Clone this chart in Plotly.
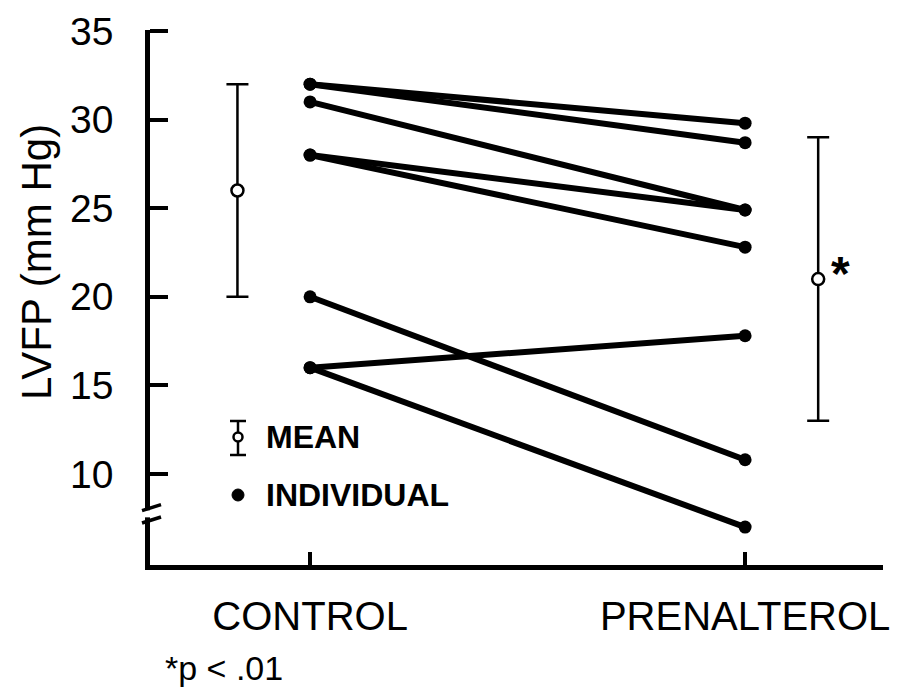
import plotly.graph_objects as go

# ---- data ----
categories = ["CONTROL", "PRENALTEROL"]
control_values = [32.0, 32.0, 31.0, 28.0, 28.0, 20.0, 16.0, 16.0]
prenalterol_values = [29.8, 28.7, 24.9, 24.9, 22.8, 10.8, 17.8, 7.0]
mean_values = [26.0, 21.0]
mean_errors = [6.0, 8.0]
y_ticks = [10, 15, 20, 25, 30, 35]
significance = ["", "*"]

FONT = "Liberation Sans"
cat_x = [0, 1]
mean_offset = [-0.167, 0.168]
mean_x = [c + o for c, o in zip(cat_x, mean_offset)]

# page offset of the figure inside the browser (default body margin)
OFF = 8
# target screen positions of plot area
SL, SR, ST, SB = 150, 883, 30, 565
L = SL - OFF
T = ST - OFF
R = 902 - (SR - OFF)
B = 690 - (SB - OFF)
plot_w = SR - SL
plot_h = SB - ST

def px_x(px):
    return (px - SL) / plot_w

def px_y(py):
    return (SB - py) / plot_h

fig = go.Figure()

# individual subjects
for c, p in zip(control_values, prenalterol_values):
    fig.add_trace(go.Scatter(
        x=cat_x, y=[c, p], mode="lines+markers",
        line=dict(color="black", width=6),
        marker=dict(color="black", size=13),
        showlegend=False, hoverinfo="skip"))

# means with error bars
fig.add_trace(go.Scatter(
    x=mean_x, y=mean_values, mode="markers",
    marker=dict(symbol="circle", size=12, color="white",
                line=dict(color="black", width=2.5)),
    error_y=dict(type="data", array=mean_errors, visible=True,
                 color="black", thickness=2.5, width=11),
    showlegend=False, hoverinfo="skip"))

# significance marker
for mx, my, s in zip(mean_x, mean_values, significance):
    if s:
        fig.add_annotation(x=mx, y=my, text="<b>" + s + "</b>", showarrow=False,
                           xshift=22, yshift=6, xanchor="center", yanchor="middle",
                           font=dict(family=FONT, size=48, color="black"))

fig.update_layout(
    width=902, height=690,
    margin=dict(l=L, r=R, t=T, b=B, pad=0, autoexpand=False),
    paper_bgcolor="white", plot_bgcolor="white",
    font=dict(family=FONT, color="black"),
    xaxis=dict(range=[-0.368, 1.317], tickvals=cat_x, ticktext=categories,
               automargin=False, ticklabeloverflow="allow",
               showline=True, linecolor="black", linewidth=4.5,
               ticks="inside", ticklen=13, tickwidth=3.5, tickcolor="black",
               showgrid=False, zeroline=False,
               tickfont=dict(family=FONT, size=40, color="black"),
               ticklabelstandoff=12),
    yaxis=dict(range=[4.86, 35.06], tickvals=y_ticks,
               automargin=False, ticklabeloverflow="allow",
               showline=True, linecolor="black", linewidth=4.5,
               ticks="inside", ticklen=18, tickwidth=4, tickcolor="black",
               showgrid=False, zeroline=False,
               tickfont=dict(family=FONT, size=39, color="black"),
               ticklabelstandoff=24),
)

# y-axis title
fig.add_annotation(xref="paper", yref="paper", x=px_x(36), y=px_y(262),
                   text="LVFP (mm Hg)", textangle=-90, showarrow=False,
                   xanchor="center", yanchor="middle",
                   font=dict(family=FONT, size=42, color="black"))

# footnote
fig.add_annotation(xref="paper", yref="paper", x=px_x(163), y=px_y(668),
                   text="*p < .01", showarrow=False,
                   xanchor="left", yanchor="middle",
                   font=dict(family=FONT, size=34, color="black"))

# axis break marks
fig.add_shape(type="rect", xref="paper", yref="y", x0=px_x(145), x1=px_x(156),
              y0=7.55, y1=7.95, fillcolor="white", line=dict(width=0), layer="above")
for yb in [8.1, 7.4]:
    fig.add_shape(type="line", xref="paper", yref="y",
                  x0=px_x(142), x1=px_x(161), y0=yb - 0.17, y1=yb + 0.17,
                  line=dict(color="black", width=3.5), layer="above")

# legend (drawn manually)
legend_labels = ["MEAN", "INDIVIDUAL"]
leg_x, leg_y = 238, [437, 495]
fig.add_shape(type="line", xref="paper", yref="paper",
              x0=px_x(leg_x), x1=px_x(leg_x), y0=px_y(421), y1=px_y(455),
              line=dict(color="black", width=2.5))
for cy in [421, 455]:
    fig.add_shape(type="line", xref="paper", yref="paper",
                  x0=px_x(leg_x - 8), x1=px_x(leg_x + 8), y0=px_y(cy), y1=px_y(cy),
                  line=dict(color="black", width=2.5))
fig.add_shape(type="circle", xref="paper", yref="paper",
              x0=px_x(leg_x - 4.5), x1=px_x(leg_x + 4.5),
              y0=px_y(leg_y[0] - 4.5), y1=px_y(leg_y[0] + 4.5),
              fillcolor="white", line=dict(color="black", width=2.5))
fig.add_shape(type="circle", xref="paper", yref="paper",
              x0=px_x(leg_x - 6), x1=px_x(leg_x + 6),
              y0=px_y(leg_y[1] - 6), y1=px_y(leg_y[1] + 6),
              fillcolor="black", line=dict(color="black", width=1))
for lab, ly in zip(legend_labels, leg_y):
    fig.add_annotation(xref="paper", yref="paper", x=px_x(264), y=px_y(ly),
                       text="<b>" + lab + "</b>", showarrow=False,
                       xanchor="left", yanchor="middle",
                       font=dict(family=FONT, size=32, color="black"))

fig.write_html("out.html")
